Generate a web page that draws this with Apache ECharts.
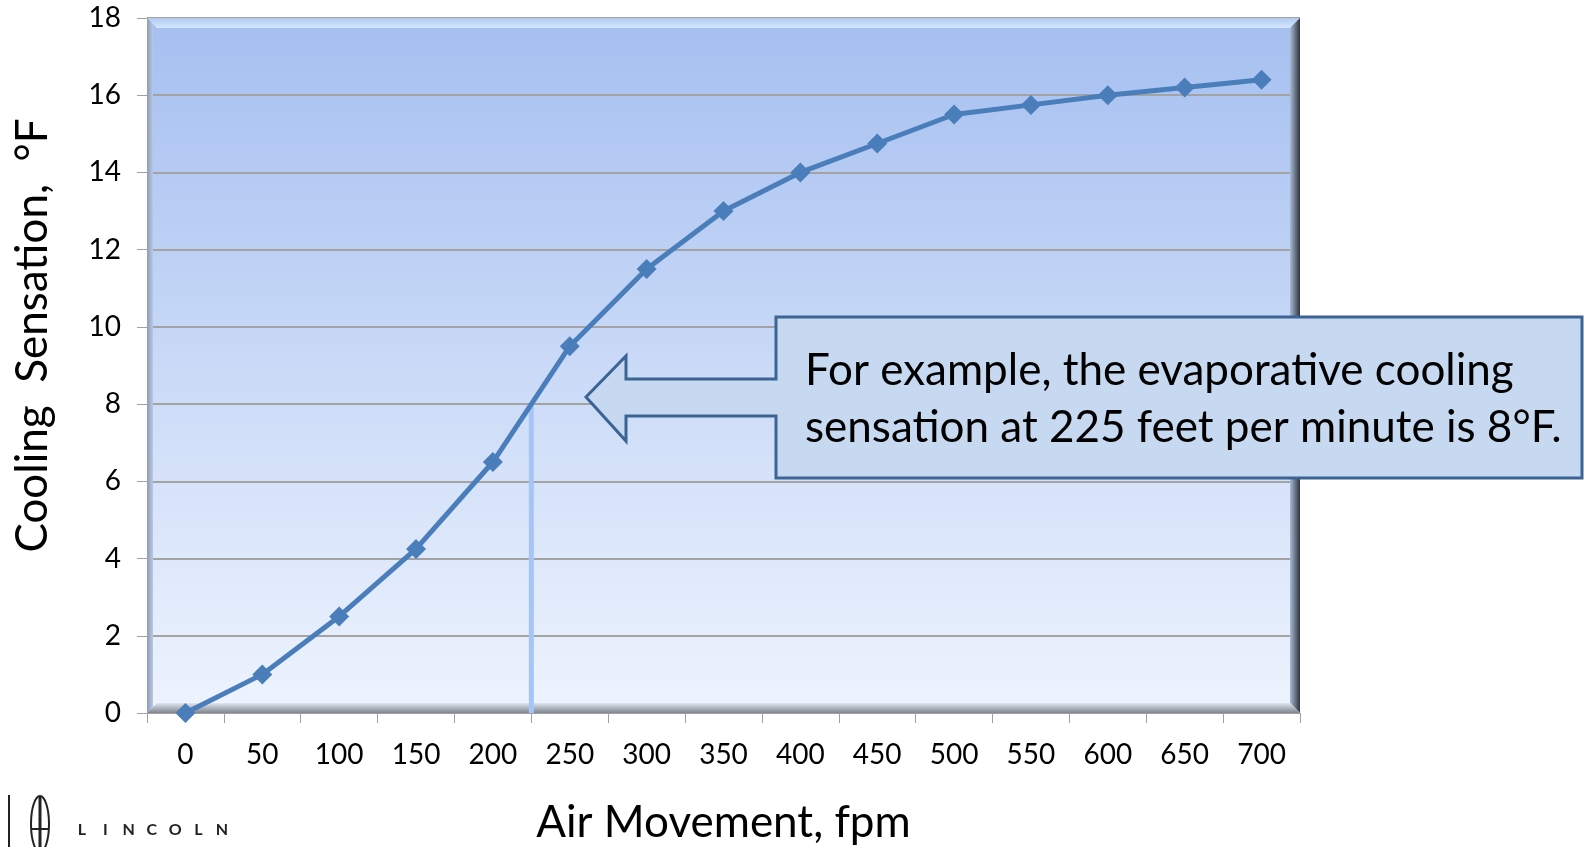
<!DOCTYPE html>
<html>
<head>
<meta charset="utf-8">
<script src="https://cdn.jsdelivr.net/npm/echarts@6/dist/echarts.min.js"></script>
<style>
  html, body { margin: 0; padding: 0; background: #fff; }
  #chart { width: 1584px; height: 847px; }
</style>
</head>
<body>
<div id="chart"></div>
<script>
// data
const airMovement = ["0", "50", "100", "150", "200", "250", "300", "350", "400", "450", "500", "550", "600", "650", "700"];
const cooling = [0, 1, 2.5, 4.25, 6.5, 9.5, 11.5, 13, 14, 14.75, 15.5, 15.75, 16, 16.2, 16.4];
const markerLine = [[225, 0], [225, 8]];
const calloutLines = ["For example, the evaporative cooling", "sensation at 225 feet per minute is 8°F."];
const brandLetters = ["L", "I", "N", "C", "O", "L", "N"];

const font = "Lato, 'Open Sans', sans-serif";
// plot area box
const L = 147, T = 18, W = 1153, H = 695;
const R = L + W, B = T + H;

let chart = echarts.init(document.getElementById("chart"));

function lin(x, y, x2, y2, c1, c2) {
  return {
    type: "linear", x: x, y: y, x2: x2, y2: y2,
    colorStops: [{ offset: 0, color: c1 }, { offset: 1, color: c2 }]
  };
}

// bevel frame round the plot area
const d = 10;
let graphics = [
  {
    type: "polygon", z: 1, silent: true,
    shape: { points: [[L, T], [R, T], [R - d, T + d], [L + d, T + d]] },
    style: { fill: lin(0, 0, 0, 1, "#b3c9ee", "#d4e8ff") }
  },
  {
    type: "polygon", z: 1, silent: true,
    shape: { points: [[R, T], [R, B], [R - d, B - d], [R - d, T + d]] },
    style: { fill: lin(0, 0, 1, 0, "#a9bbd8", "#2f333b") }
  },
  {
    type: "polygon", z: 1, silent: true,
    shape: { points: [[L, B], [R, B], [R - d, B - d], [L + d, B - d]] },
    style: { fill: lin(0, 0, 0, 1, "#dfe6f0", "#80858f") }
  },
  {
    type: "polygon", z: 1, silent: true,
    shape: { points: [[L, T], [L, B], [L + 6, B - 6], [L + 6, T + 6]] },
    style: { fill: lin(0, 0, 1, 0, "#8d9bb3", "#b9c9e6") }
  }
];

// callout arrow pointing left
const bx = 776, by = 317, bx2 = 1582, by2 = 478;
graphics.push({
  type: "polygon", z: 20, silent: true,
  shape: {
    points: [[bx, by], [bx2, by], [bx2, by2], [bx, by2], [bx, 416], [626, 416], [626, 441],
             [586, 397], [626, 356], [626, 379], [bx, 379]]
  },
  style: { fill: "#c6d9f1", stroke: "#3b6494", lineWidth: 3 }
});
calloutLines.forEach((t, i) => {
  graphics.push({
    type: "text", z: 21, silent: true,
    style: {
      x: 805, y: 371 + i * 57, text: t, fill: "#000",
      font: "44px " + font, textVerticalAlign: "middle"
    }
  });
});

// brand mark bottom left
graphics.push({
  type: "line", z: 5, silent: true,
  shape: { x1: 9, y1: 795, x2: 9, y2: 847 },
  style: { stroke: "#222", lineWidth: 2 }
});
graphics.push({
  type: "ellipse", z: 5, silent: true,
  shape: { cx: 40, cy: 824, rx: 9, ry: 28 },
  style: { fill: "none", stroke: "#222", lineWidth: 2 }
});
graphics.push({
  type: "line", z: 5, silent: true,
  shape: { x1: 40, y1: 796, x2: 40, y2: 847 },
  style: { stroke: "#222", lineWidth: 3 }
});
graphics.push({
  type: "line", z: 5, silent: true,
  shape: { x1: 31, y1: 829, x2: 49, y2: 829 },
  style: { stroke: "#222", lineWidth: 2 }
});
brandLetters.forEach((ch, i) => {
  graphics.push({
    type: "text", z: 5, silent: true,
    style: {
      x: 82 + i * 23.3, y: 830, text: ch, fill: "#222",
      font: "bold 16px " + font, textAlign: "center", textVerticalAlign: "middle"
    }
  });
});

let option = {
  animation: false,
  grid: {
    left: L, top: T, width: W, height: H,
    outerBoundsMode: "none",
    containLabel: false,
    show: true,
    backgroundColor: lin(0, 0, 0, 1, "#a5bff0", "#eef4fe"),
    borderWidth: 0
  },
  xAxis: [
    {
      type: "category",
      data: airMovement,
      boundaryGap: true,
      name: "Air Movement, fpm",
      nameLocation: "middle",
      nameGap: 88,
      nameTextStyle: { fontFamily: font, fontSize: 44, color: "#000" },
      axisLine: { show: true, lineStyle: { color: "#a0a0a0", width: 1 } },
      axisTick: { show: true, length: 10, lineStyle: { color: "#a0a0a0" } },
      axisLabel: { fontFamily: font, fontSize: 28, color: "#000", margin: 28 },
      splitLine: { show: false }
    },
    {
      // hidden value axis spanning the same width, for the 225 fpm marker
      type: "value",
      min: -25,
      max: 725,
      show: false
    }
  ],
  yAxis: {
    type: "value",
    min: 0,
    max: 18,
    interval: 2,
    name: "Cooling  Sensation,  °F",
    nameLocation: "middle",
    nameGap: 92,
    nameTextStyle: { fontFamily: font, fontSize: 44, color: "#000", padding: [0, 0, 0, 60] },
    axisLine: { show: true, onZero: false, lineStyle: { color: "#a0a0a0" } },
    axisTick: { show: true, length: 10, lineStyle: { color: "#a0a0a0" } },
    axisLabel: { fontFamily: font, fontSize: 28, color: "#000", margin: 26 },
    splitLine: { show: true, lineStyle: { color: "#a3a3a3", width: 2 } }
  },
  graphic: graphics,
  series: [
    {
      name: "marker",
      type: "line",
      xAxisIndex: 1,
      data: markerLine,
      symbol: "none",
      lineStyle: { color: "#a6c4f6", width: 5 },
      z: 3
    },
    {
      name: "cooling",
      type: "line",
      xAxisIndex: 0,
      data: cooling,
      symbol: "diamond",
      symbolSize: 20,
      itemStyle: { color: "#4a7ebb" },
      lineStyle: { color: "#4a7ebb", width: 5 },
      z: 4
    }
  ]
};
chart.setOption(option);
</script>
</body>
</html>
